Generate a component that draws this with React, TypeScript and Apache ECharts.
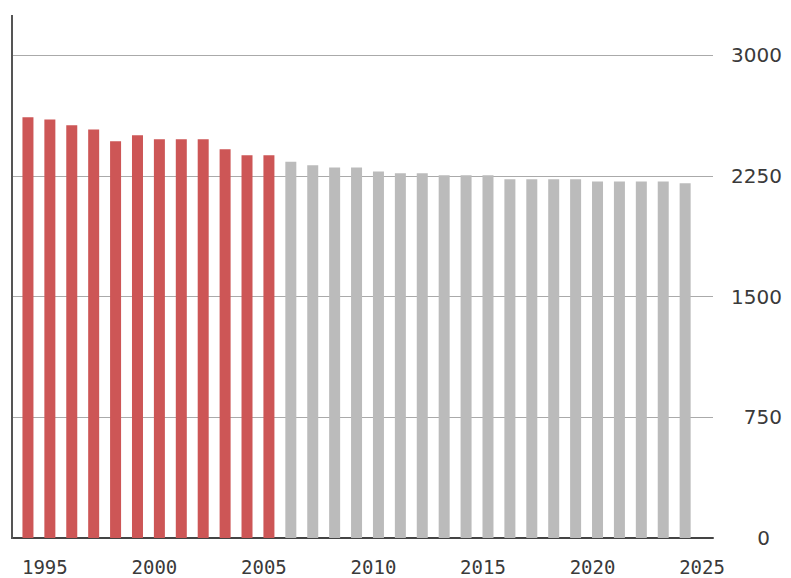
import React, { useEffect, useRef } from "react";
import * as echarts from "echarts";

const years = [
  "1994", "1995", "1996", "1997", "1998", "1999", "2000", "2001", "2002", "2003",
  "2004", "2005", "2006", "2007", "2008", "2009", "2010", "2011", "2012", "2013",
  "2014", "2015", "2016", "2017", "2018", "2019", "2020", "2021", "2022", "2023",
  "2024", "2025",
];
const historical = [
  2613, 2600, 2563, 2538, 2464, 2501, 2476, 2476, 2476, 2414, 2377, 2377,
];
const projected = [
  2337, 2315, 2302, 2302, 2277, 2265, 2265, 2253, 2253, 2253, 2228, 2228,
  2228, 2228, 2215, 2215, 2215, 2215, 2203,
];
const yTicks = [0, 750, 1500, 2250, 3000];

const RED = "#cd5656";
const GREY = "#bbbbbb";

export default function App() {
  const ref = useRef<HTMLDivElement>(null);
  useEffect(() => {
    if (!ref.current) return;
    const chart = echarts.init(ref.current, null, { renderer: "svg" });
    const histData = years.map((y, i) =>
      i < historical.length ? historical[i] : null
    );
    const projData = years.map((y, i) => {
      const j = i - historical.length;
      return j >= 0 && j < projected.length ? projected[j] : null;
    });
    const yMax = yTicks[yTicks.length - 1];
    chart.setOption({
      animation: false,
      grid: [
        { left: 12, right: 78, top: 55, bottom: 40 },
        { left: 17, right: 73, top: 55, bottom: 40 },
      ],
      xAxis: [
        {
          type: "category",
          gridIndex: 0,
          data: years,
          boundaryGap: true,
          axisLine: { show: true, lineStyle: { color: "#444", width: 2 } },
          axisTick: { show: false },
          axisLabel: {
            interval: (idx: number, val: string) => Number(val) % 5 === 0,
            margin: 19,
            fontFamily: "DejaVu Sans Mono",
            fontSize: 19,
            color: "#3a3a3a",
          },
          splitLine: { show: false },
        },
        {
          type: "category",
          gridIndex: 1,
          data: years,
          boundaryGap: true,
          show: false,
        },
      ],
      yAxis: [
        {
          type: "value",
          gridIndex: 0,
          position: "right",
          min: 0,
          max: yMax,
          interval: 750,
          axisLine: { show: false },
          axisTick: { show: false },
          splitLine: { show: true, lineStyle: { color: "#aaaaaa", width: 1 } },
          axisLabel: {
            align: "right",
            margin: 69,
            fontFamily: "DejaVu Sans",
            fontSize: 20,
            color: "#3a3a3a",
            formatter: (v: number) => (v === 0 ? "{z|0}" : String(v)),
            rich: {
              z: {
                fontFamily: "DejaVu Sans",
                fontSize: 20,
                color: "#3a3a3a",
                padding: [0, 12, 0, 0],
              },
            },
          },
        },
        {
          type: "value",
          gridIndex: 1,
          min: 0,
          max: yMax,
          show: false,
          splitLine: { show: false },
        },
      ],
      series: [
        {
          type: "bar",
          xAxisIndex: 1,
          yAxisIndex: 1,
          data: histData,
          barWidth: 11,
          barGap: "-100%",
          itemStyle: { color: RED },
        },
        {
          type: "bar",
          xAxisIndex: 1,
          yAxisIndex: 1,
          data: projData,
          barWidth: 11,
          barGap: "-100%",
          itemStyle: { color: GREY },
        },
      ],
      graphic: [
        {
          type: "line",
          shape: { x1: 12, y1: 15, x2: 12, y2: 539 },
          style: { stroke: "#555", lineWidth: 2 },
          z: 10,
        },
      ],
    });
    return () => chart.dispose();
  }, []);
  return <div ref={ref} style={{ width: 791, height: 578, position: "absolute", left: 0, top: 0 }} />;
}
